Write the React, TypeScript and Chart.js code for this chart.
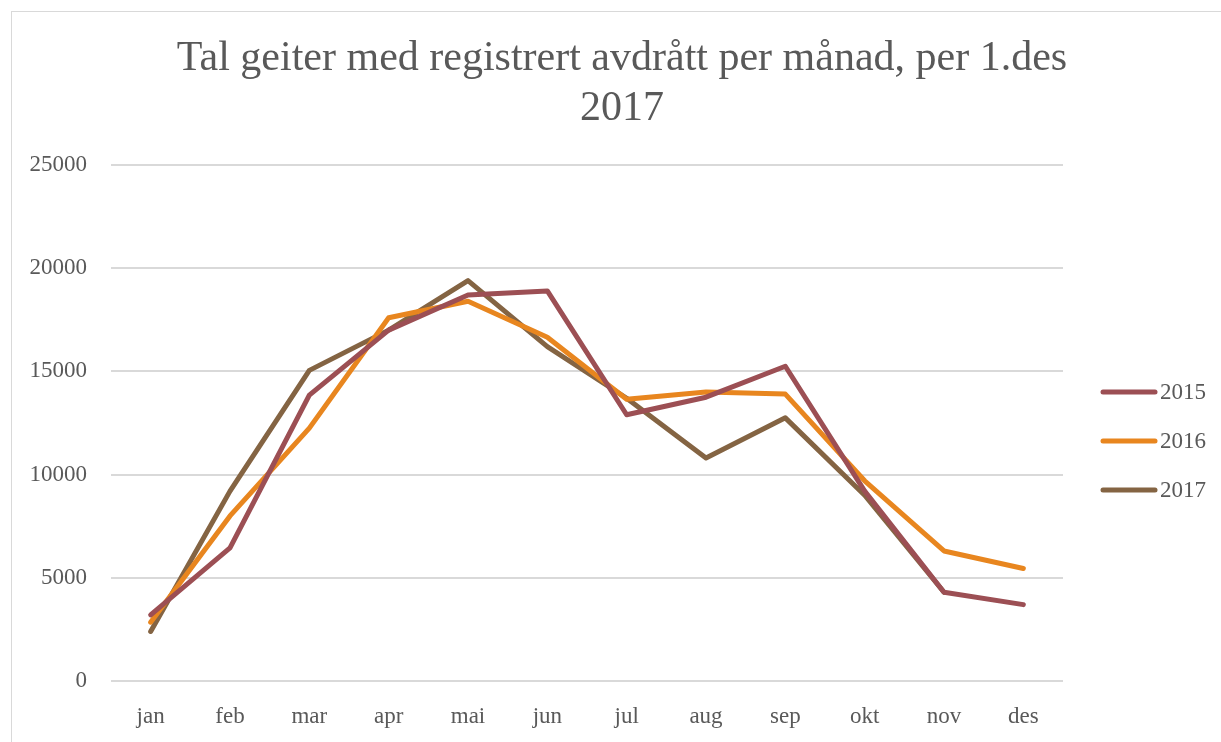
import React, { useEffect, useRef } from "react";
import { Chart, registerables } from "chart.js";

Chart.register(...registerables);

const months = ["jan", "feb", "mar", "apr", "mai", "jun", "jul", "aug", "sep", "okt", "nov", "des"];
const series2015 = [3200, 6450, 13850, 17000, 18700, 18900, 12900, 13750, 15250, 9200, 4300, 3700];
const series2016 = [2850, 8000, 12250, 17600, 18400, 16650, 13650, 14000, 13900, 9700, 6300, 5450];
const series2017: (number | null)[] = [2400, 9200, 15050, 17000, 19400, 16200, 13700, 10800, 12750, 9000, 4300, null];
const yTicks = [0, 5000, 10000, 15000, 20000, 25000];
const titleLines = ["Tal geiter med registrert avdrått per månad, per 1.des", "2017"];

const FONT = '"Liberation Serif", serif';
const TEXT = "#595959";
const LABEL_SIZE = 23;

const sideLegend = {
  id: "sideLegend",
  afterDraw(chart: any) {
    const { ctx, chartArea } = chart;
    const cy = (chartArea.top + chartArea.bottom) / 2 + 18;
    chart.data.datasets.forEach((ds: any, i: number) => {
      const y = cy + (i - 1) * 49;
      const x0 = chartArea.right + 38;
      ctx.save();
      ctx.strokeStyle = ds.borderColor;
      ctx.lineWidth = 5;
      ctx.lineCap = "round";
      ctx.beginPath();
      ctx.moveTo(x0 + 2, y);
      ctx.lineTo(x0 + 54, y);
      ctx.stroke();
      ctx.fillStyle = TEXT;
      ctx.font = `${LABEL_SIZE}px ${FONT}`;
      ctx.textBaseline = "middle";
      ctx.textAlign = "left";
      ctx.fillText(ds.label, x0 + 59, y + 1);
      ctx.restore();
    });
  },
};

export default function App() {
  const ref = useRef<HTMLCanvasElement>(null);
  useEffect(() => {
    if (!ref.current) return;
    const mk = (label: string, data: any[], color: string) => ({
      label,
      data,
      borderColor: color,
      backgroundColor: color,
      borderWidth: 5,
      pointRadius: 0,
      pointHoverRadius: 0,
      tension: 0,
      borderCapStyle: "round" as const,
      borderJoinStyle: "round" as const,
      fill: false,
      spanGaps: false,
    });
    const chart = new Chart(ref.current, {
      type: "line",
      data: {
        labels: months,
        datasets: [
          mk("2015", series2015, "#9c4f54"),
          mk("2016", series2016, "#e8861f"),
          mk("2017", series2017, "#846443"),
        ],
      },
      options: {
        animation: false,
        responsive: false,
        devicePixelRatio: 1,
        layout: { padding: { left: 23, right: 0, top: 0, bottom: 0 } },
        plugins: {
          legend: { display: false },
          tooltip: { enabled: false },
          title: {
            display: true,
            text: titleLines,
            color: TEXT,
            font: { family: FONT, size: 42, weight: "normal", lineHeight: 50 / 42 },
            padding: { top: 34, bottom: 31 },
          },
        },
        scales: {
          x: {
            offset: true,
            grid: { display: false, drawTicks: false },
            border: { display: false },
            ticks: { color: TEXT, font: { family: FONT, size: LABEL_SIZE }, padding: 22 },
            afterFit: (s: any) => {
              s.height = 61;
            },
          },
          y: {
            min: 0,
            max: 25000,
            afterBuildTicks: (s: any) => {
              s.ticks = yTicks.map((v) => ({ value: v }));
            },
            grid: { color: "#d9d9d9", lineWidth: 2, drawTicks: false },
            border: { display: false },
            ticks: {
              color: TEXT,
              font: { family: FONT, size: LABEL_SIZE },
              padding: 24,
              callback: (v: any) => String(v),
            },
            afterFit: (s: any) => {
              s.width = 88;
            },
          },
          legendSpace: {
            type: "linear",
            position: "right",
            display: true,
            grid: { display: false, drawTicks: false },
            border: { display: false },
            ticks: { display: false },
            afterFit: (s: any) => {
              s.width = 158;
            },
          },
        },
      },
      plugins: [sideLegend],
    });
    return () => chart.destroy();
  }, []);

  return (
    <div style={{ position: "fixed", left: 0, top: 0, width: 1221, height: 742, overflow: "hidden", background: "#fff" }}>
      <div
        style={{
          position: "absolute",
          left: 11,
          top: 11,
          width: 1300,
          height: 800,
          border: "1px solid #d9d9d9",
        }}
      />
      <canvas ref={ref} width={1221} height={742} style={{ position: "absolute", left: 0, top: 0 }} />
    </div>
  );
}
